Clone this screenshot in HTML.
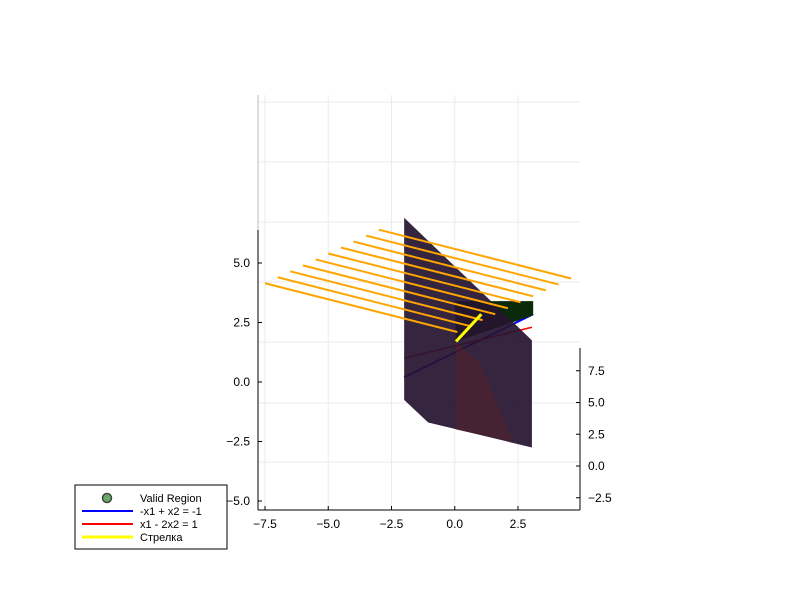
<!DOCTYPE html>
<html><head><meta charset="utf-8"><style>body{margin:0;background:#fff}svg{font-family:"Liberation Sans","DejaVu Sans",sans-serif}</style></head>
<body>
<svg id="c" width="800" height="600" viewBox="0 0 800 600">
<rect width="800" height="600" fill="#fff"/>
<g id="grid"></g>
<g id="marks"></g>
<g id="axes"></g>
<g>
<rect x="75" y="485" width="152" height="64" fill="#fff" stroke="#000" stroke-width="1"/>
<circle cx="107" cy="498" r="4.5" fill="#6aaa6a" stroke="#444" stroke-width="1.5"/>
<text x="140" y="502" font-size="11">Valid Region</text>
<line x1="82" y1="511" x2="133" y2="511" stroke="#0000ff" stroke-width="2"/>
<text x="140" y="515" font-size="11">-x1 + x2 = -1</text>
<line x1="82" y1="524" x2="133" y2="524" stroke="#ff0000" stroke-width="2"/>
<text x="140" y="528" font-size="11">x1 - 2x2 = 1</text>
<line x1="82" y1="537" x2="133" y2="537" stroke="#ffff00" stroke-width="3"/>
<text x="140" y="541" font-size="11">Стрелка</text>
</g>
</svg>
<script>
const xTicks=[-7.5,-5.0,-2.5,0.0,2.5];
const yTicks=[5.0,2.5,0.0,-2.5,-5.0];
const zTicks=[7.5,5.0,2.5,0.0,-2.5];
const orangeStartX=[-7.5,-7.0,-6.5,-6.0,-5.5,-5.0,-4.5,-4.0,-3.5,-3.0];
const orangeStartY=[4.15,4.4,4.65,4.9,5.15,5.4,5.65,5.9,6.15,6.4];
const orangeDx=[7.6];const orangeDy=[-2.05];
const regionX=[-2.0,3.05,3.05,-1.05,-2.0];
const regionY=[6.9,1.75,-2.75,-1.7,-0.75];
const redRegionX=[0.05,1.0,2.3,0.05];
const redRegionY=[1.65,0.8,-2.5,-2.0];
const greenX=[0.0,3.1,3.1,0.05];
const greenY=[3.4,3.4,2.8,1.7];
const blueX=[-2.0,3.1];const blueY=[0.2,2.85];
const redX=[-2.0,3.05];const redY=[1.0,2.3];
const arrowX=[0.05,1.05];const arrowY=[1.7,2.85];
const X=v=>454.75+v*25.3, Y=v=>382-v*23.8, Z=v=>466-v*12.7;
const ns="http://www.w3.org/2000/svg";
function mk(p,t,a){const e=document.createElementNS(ns,t);for(const k in a)e.setAttribute(k,a[k]);p.appendChild(e);return e;}
const grid=document.getElementById('grid'),marks=document.getElementById('marks'),axes=document.getElementById('axes');
[102,162,222,282,342,403,462].forEach(y=>{const l=mk(grid,'line',{x1:258,x2:580,y1:y,y2:y,stroke:'#ebebeb'});

});
xTicks.forEach(v=>{const l=mk(grid,'line',{x1:X(v),x2:X(v),y1:95,y2:510,stroke:'#ebebeb'});

});
function poly(xs,ys,fill,op,name){const p=mk(marks,'polygon',{points:xs.map((x,i)=>X(x)+','+Y(ys[i])).join(' '),fill:fill,'fill-opacity':op});

}
function line(xs,ys,c,w,name){const l=mk(marks,'line',{x1:X(xs[0]),y1:Y(ys[0]),x2:X(xs[1]),y2:Y(ys[1]),stroke:c,'stroke-width':w});

}
line(blueX,blueY,'#0000ff',2,'blue-line');
line(redX,redY,'#ff0000',1.5,'red-line');
poly(greenX,greenY,'#0a2a0a',1,'valid-region');
poly(regionX,regionY,'#26142f',0.93,'region-surface');
poly(redRegionX,redRegionY,'#5a2026',0.5,'red-region');
orangeStartX.forEach((x,i)=>line([x,x+orangeDx[0]],[orangeStartY[i],orangeStartY[i]+orangeDy[0]],'#ffa500',2,'orange-line'));
line(arrowX,arrowY,'#ffff00',3,'arrow');
mk(axes,'line',{x1:258,y1:95,x2:258,y2:230,stroke:'#bbb'});
mk(axes,'line',{x1:258,y1:230,x2:258,y2:510,stroke:'#000'});
mk(axes,'line',{x1:258,y1:510,x2:580,y2:510,stroke:'#000'});
mk(axes,'line',{x1:580,y1:348,x2:580,y2:510,stroke:'#000'});
xTicks.forEach(v=>{mk(axes,'line',{x1:X(v),x2:X(v),y1:510,y2:506,stroke:'#000'});
const t=mk(axes,'text',{x:X(v),y:528,'font-size':12,'text-anchor':'middle'});t.textContent=(v<0?'\u2212':'')+Math.abs(v).toFixed(1);

});
yTicks.forEach(v=>{mk(axes,'line',{x1:258,x2:262,y1:Y(v),y2:Y(v),stroke:'#000'});
const t=mk(axes,'text',{x:250,y:Y(v)+4,'font-size':12,'text-anchor':'end'});t.textContent=(v<0?'\u2212':'')+Math.abs(v).toFixed(1);

});
zTicks.forEach(v=>{mk(axes,'line',{x1:576,x2:580,y1:Z(v),y2:Z(v),stroke:'#000'});
const t=mk(axes,'text',{x:588,y:Z(v)+4,'font-size':12});t.textContent=(v<0?'\u2212':'')+Math.abs(v).toFixed(1);

});
</script>
</body></html>
